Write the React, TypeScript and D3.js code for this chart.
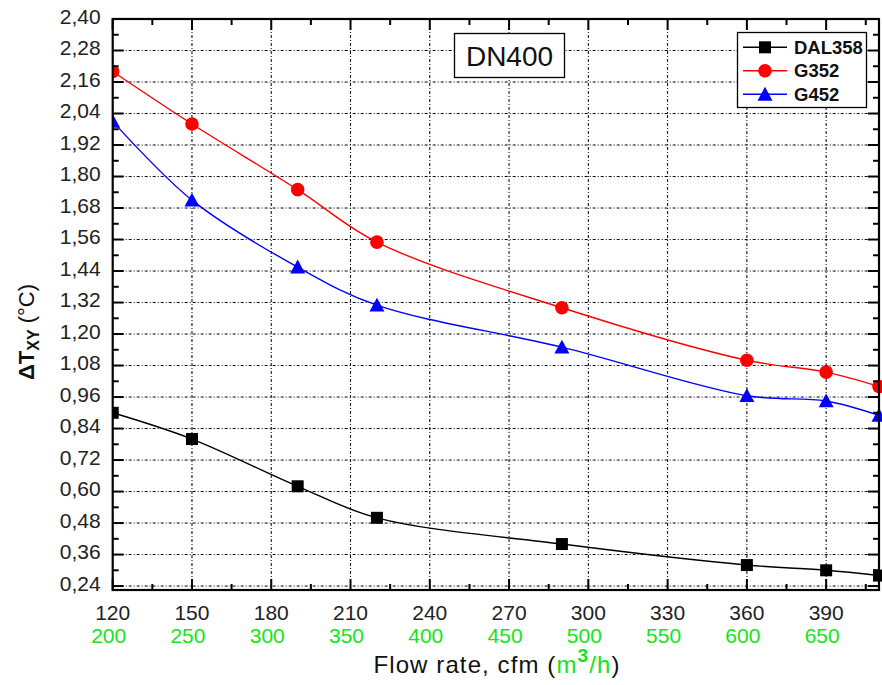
import React from "react";
import * as d3 from "d3";

const flowRates = [120, 150, 190, 220, 290, 360, 390, 410];
const dal358 = [0.9, 0.8, 0.62, 0.5, 0.4, 0.32, 0.3, 0.28];
const g352 = [2.2, 2.0, 1.75, 1.55, 1.3, 1.1, 1.055, 1.0];
const g452 = [2.01, 1.71, 1.455, 1.31, 1.15, 0.965, 0.945, 0.89];
const xMajorTicks = [120, 150, 180, 210, 240, 270, 300, 330, 360, 390];
const m3hLabels = [200, 250, 300, 350, 400, 450, 500, 550, 600, 650];
const yMajorTicks = [0.24, 0.36, 0.48, 0.6, 0.72, 0.84, 0.96, 1.08, 1.2, 1.32, 1.44, 1.56, 1.68, 1.8, 1.92, 2.04, 2.16, 2.28, 2.4];

const W = 882;
const H = 685;
const M = { left: 112.7, right: 3, top: 19, bottom: 95 };
const FONT = "'Liberation Sans', Arial, sans-serif";
const GREEN = "#14e614";

const series = [
  { name: "DAL358", values: dal358, color: "#000000", marker: "square" },
  { name: "G352", values: g352, color: "#ff0000", marker: "circle" },
  { name: "G452", values: g452, color: "#0000ff", marker: "triangle" },
];

function Marker({ type, x, y, color }: { type: string; x: number; y: number; color: string }) {
  if (type === "square") return <rect x={x - 6} y={y - 6} width={12} height={12} fill={color} />;
  if (type === "circle") return <circle cx={x} cy={y} r={6.8} fill={color} />;
  const s = 7.5;
  return <path d={`M${x},${y - s}L${x + s},${y + s * 0.85}L${x - s},${y + s * 0.85}Z`} fill={color} />;
}

export default function App() {
  const x = d3.scaleLinear().domain([120, 410]).range([M.left, W - M.right]);
  const y = d3.scaleLinear().domain([0.225, 2.4]).range([H - M.bottom, M.top]);
  const x0 = M.left, x1 = W - M.right, y0 = H - M.bottom, y1 = M.top;
  const fmt = (v: number) => d3.format(".2f")(v).replace(".", ",");
  const line = d3
    .line<number>()
    .x((_, i) => x(flowRates[i]))
    .y((d) => y(d))
    .curve(d3.curveCatmullRom.alpha(0.5));

  const xMinor = d3.range(120, 410, 15);
  const yMinor = d3.range(0.24, 2.41, 0.06);
  const majLen = 11, minLen = 6;

  return (
    <svg width={W} height={H} style={{ position: "absolute", left: 0, top: 0, background: "#fff" }} fontFamily={FONT}>
      <defs>
        <clipPath id="plotClip">
          <rect x={x0} y={y1} width={x1 - x0 + 10} height={y0 - y1} />
        </clipPath>
      </defs>
      <rect width={W} height={H} fill="#fff" />
      {/* grid */}
      <g stroke="#000" strokeWidth={1} strokeDasharray="3,2,1,2">
        {xMajorTicks.filter((t) => t > 120).map((t) => (
          <line key={"gx" + t} x1={x(t)} x2={x(t)} y1={y0} y2={y1} />
        ))}
        {yMajorTicks.filter((t) => t < 2.4).map((t) => (
          <line key={"gy" + t} x1={x0} x2={x1} y1={y(t)} y2={y(t)} />
        ))}
      </g>
      {/* series */}
      <g clipPath="url(#plotClip)">
        {series.map((s) => (
          <g key={s.name}>
            <path d={line(s.values) || ""} fill="none" stroke={s.color} strokeWidth={1.4} />
            {s.values.map((v, i) => (
              <Marker key={i} type={s.marker} x={x(flowRates[i])} y={y(v)} color={s.color} />
            ))}
          </g>
        ))}
      </g>
      {/* ticks */}
      <g stroke="#000" strokeWidth={2}>
        {xMinor.map((t) => {
          const L = (t - 120) % 30 === 0 ? majLen : minLen;
          return (
            <g key={"xt" + t}>
              <line x1={x(t)} x2={x(t)} y1={y0} y2={y0 - L} />
              <line x1={x(t)} x2={x(t)} y1={y1} y2={y1 + L} />
            </g>
          );
        })}
        {yMinor.map((t, i) => {
          const L = i % 2 === 0 ? majLen : minLen;
          return (
            <g key={"yt" + i}>
              <line x1={x0} x2={x0 + L} y1={y(t)} y2={y(t)} />
              <line x1={x1} x2={x1 - L} y1={y(t)} y2={y(t)} />
            </g>
          );
        })}
      </g>
      <rect x={x0} y={y1} width={x1 - x0} height={y0 - y1} fill="none" stroke="#000" strokeWidth={2.2} />
      {/* y tick labels */}
      <g fontSize={21} fill="#222" textAnchor="end">
        {yMajorTicks.map((t) => (
          <text key={"yl" + t} x={x0 - 12} y={y(t) + 4.5}>
            {fmt(t)}
          </text>
        ))}
      </g>
      {/* x tick labels */}
      <g fontSize={21} textAnchor="middle">
        {xMajorTicks.map((t) => (
          <text key={"xl" + t} x={x(t)} y={620} fill="#222">
            {t}
          </text>
        ))}
        {m3hLabels.map((t) => (
          <text key={"ml" + t} x={x(t * 0.6) - 4} y={643} fill={GREEN}>
            {t}
          </text>
        ))}
      </g>
      {/* x title */}
      <text x={497} y={673} fontSize={24} textAnchor="middle" letterSpacing={1.1} fill="#111">
        Flow rate, cfm (<tspan fill={GREEN}>m</tspan>
        <tspan fill={GREEN} fontSize={19} fontWeight="bold" dy={-11}>3</tspan>
        <tspan fill={GREEN} dy={11}>/h</tspan>)
      </text>
      {/* y title */}
      <text transform="translate(34,332) rotate(-90)" textAnchor="middle" fontSize={22} fill="#111">
        <tspan fontWeight="bold">ΔT</tspan>
        <tspan fontWeight="bold" fontSize={16} dy={5}>XY</tspan>
        <tspan dy={-5}> (°C)</tspan>
      </text>
      {/* DN400 box */}
      <rect x={454.5} y={33.5} width={110} height={44} fill="#fff" stroke="#000" strokeWidth={1.3} />
      <text x={509.5} y={65.5} fontSize={28} textAnchor="middle" fill="#111">DN400</text>
      {/* legend */}
      <rect x={737.5} y={32.5} width={129} height={75} fill="#fff" stroke="#000" strokeWidth={1.3} />
      {series.map((s, i) => {
        const ly = 47.3 + i * 23.5;
        return (
          <g key={"lg" + s.name}>
            <line x1={743} x2={787} y1={ly} y2={ly} stroke={s.color} strokeWidth={1.4} />
            <Marker type={s.marker} x={765} y={ly} color={s.color} />
            <text x={794} y={ly + 6.6} fontSize={18.5} fontWeight="bold" fill="#111">
              {s.name}
            </text>
          </g>
        );
      })}
    </svg>
  );
}
